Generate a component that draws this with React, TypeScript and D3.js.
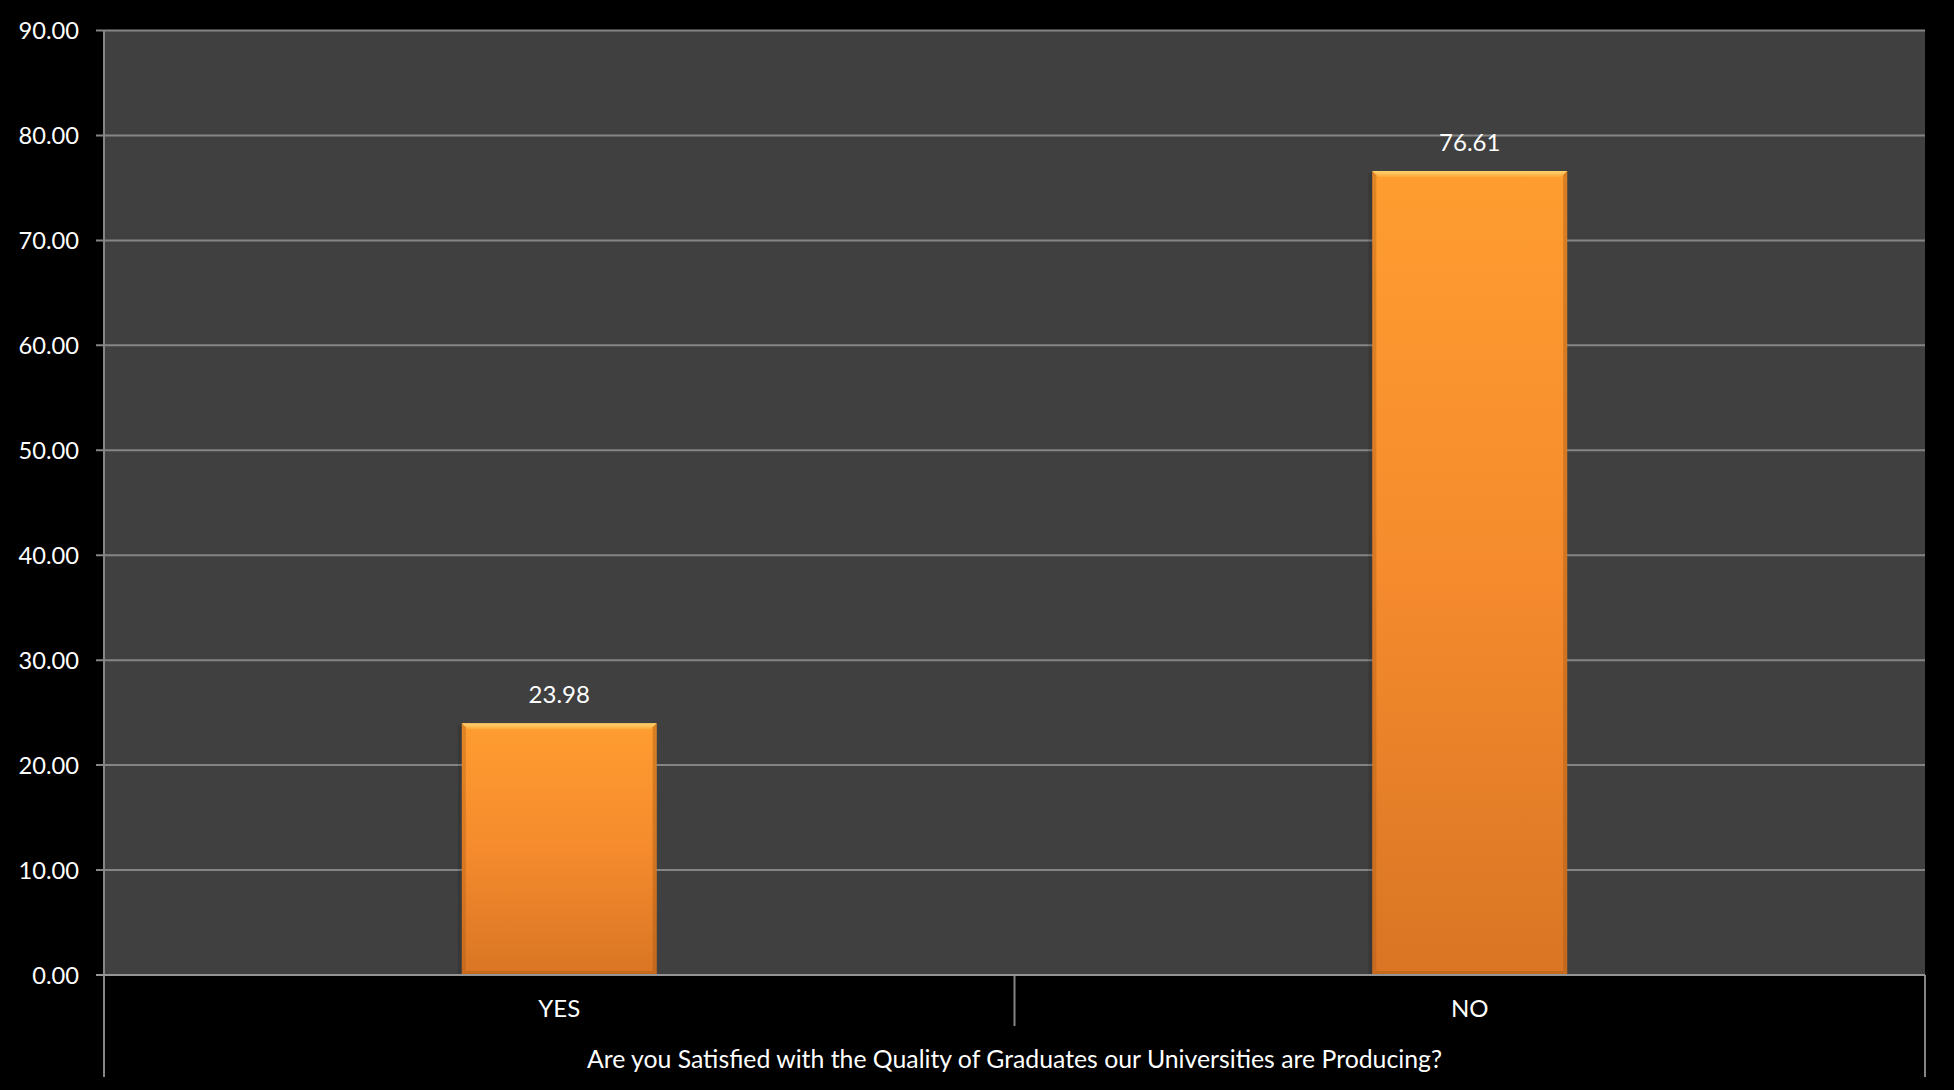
import React from "react";
import * as d3 from "d3";

const categories = ["YES", "NO"];
const values = [23.98, 76.61];
const yTicks = [0, 10, 20, 30, 40, 50, 60, 70, 80, 90];
const axisTitle = "Are you Satisfied with the Quality of Graduates our Universities are Producing?";

const W = 1954;
const H = 1090;
const left = 104;
const right = 1925;
const top = 30.5;
const bottom = 975;
const FONT = "Lato, 'Open Sans', sans-serif";

export default function App() {
  const y = d3.scaleLinear().domain([0, 90]).range([bottom, top]);
  const x = d3.scaleBand<string>().domain(categories).range([left, right]).paddingInner(0.786).paddingOuter(0.393);
  const band = d3.scaleBand<string>().domain(categories).range([left, right]);
  const bw = x.bandwidth();
  const b = 6;

  return (
    <svg width={W} height={H} style={{ position: "absolute", left: 0, top: 0, display: "block" }}>
      <defs>
        <linearGradient id="barGrad" x1="0" y1="0" x2="0" y2="1">
          <stop offset="0" stopColor="#ff9d30" />
          <stop offset="0.5" stopColor="#f58b2d" />
          <stop offset="1" stopColor="#d97524" />
        </linearGradient>
        <linearGradient id="topBevel" x1="0" y1="0" x2="0" y2="1">
          <stop offset="0" stopColor="#ffd46e" />
          <stop offset="1" stopColor="#ffa83a" />
        </linearGradient>
      </defs>
      <rect x={0} y={0} width={W} height={H} fill="#000" />
      <rect x={left} y={top} width={right - left} height={bottom - top} fill="#404040" />
      {yTicks.map((t) => (
        <g key={t}>
          <line x1={left - 8} x2={right} y1={y(t)} y2={y(t)} stroke="#858585" strokeWidth={2} />
          <text x={79} y={y(t) + 8.5} fill="#fff" fontFamily={FONT} fontSize={23.7} textAnchor="end">
            {d3.format(".2f")(t)}
          </text>
        </g>
      ))}
      {categories.map((c, i) => {
        const x0 = x(c)!;
        const x1 = x0 + bw;
        const y0 = y(values[i]);
        const y1 = y(0);
        return (
          <g key={c}>
            <rect x={x0 - 4} y={y0 + 2} width={4} height={y1 - y0 - 2} fill="#000" opacity={0.12} />
            <rect x={x0} y={y0} width={bw} height={y1 - y0} fill="url(#barGrad)" />
            <polygon points={`${x0},${y0} ${x1},${y0} ${x1 - b},${y0 + b} ${x0 + b},${y0 + b}`} fill="url(#topBevel)" />
            <polygon points={`${x0},${y0} ${x0 + b - 2},${y0 + b - 2} ${x0 + b - 2},${y1 - b + 2} ${x0},${y1}`} fill="#a85a15" opacity={0.35} />
            <polygon points={`${x1},${y0} ${x1 - b + 2},${y0 + b - 2} ${x1 - b + 2},${y1 - b + 2} ${x1},${y1}`} fill="#a85a15" opacity={0.45} />
            <polygon points={`${x0},${y1} ${x0 + b - 2},${y1 - b + 2} ${x1 - b + 2},${y1 - b + 2} ${x1},${y1}`} fill="#a85a15" opacity={0.4} />
            <text x={x0 + bw / 2} y={y0 - 20} fill="#fff" fontFamily={FONT} fontSize={24} textAnchor="middle">
              {d3.format(".2f")(values[i])}
            </text>
            <text x={band(c)! + band.bandwidth() / 2} y={1017} fill="#fff" fontFamily={FONT} fontSize={24} textAnchor="middle">
              {c}
            </text>
          </g>
        );
      })}
      {/* axis frame lines */}
      <line x1={left} x2={left} y1={top} y2={1077} stroke="#858585" strokeWidth={2} />
      <line x1={right} x2={right} y1={bottom} y2={1077} stroke="#858585" strokeWidth={2} />
      <line x1={band("NO")!} x2={band("NO")!} y1={bottom} y2={1026} stroke="#858585" strokeWidth={2} />
      <line x1={left - 8} x2={right} y1={bottom} y2={bottom} stroke="#959595" strokeWidth={2} />
      <text x={(left + right) / 2} y={1068} fill="#fff" fontFamily={FONT} fontSize={24.8} textAnchor="middle">
        {axisTitle}
      </text>
    </svg>
  );
}
